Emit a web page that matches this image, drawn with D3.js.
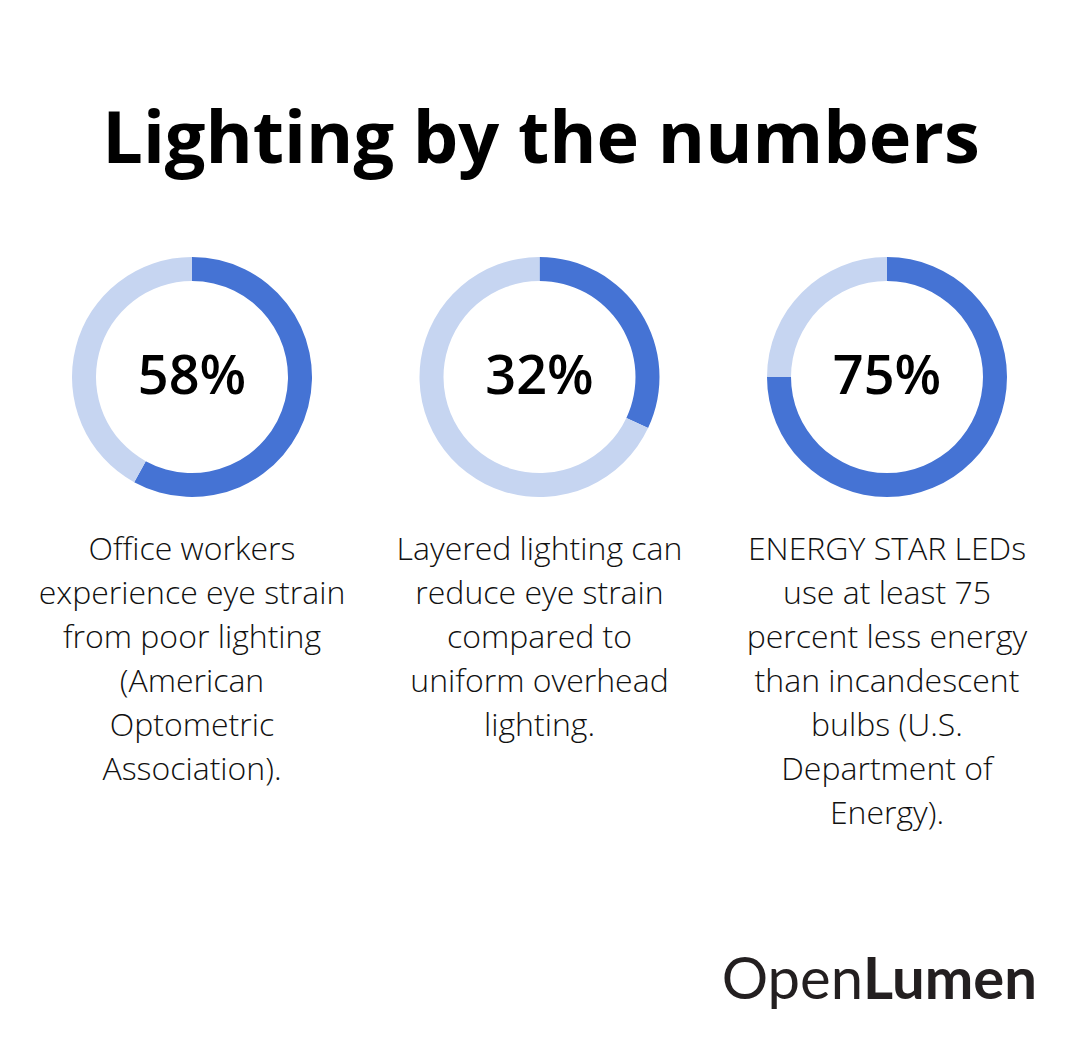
<!DOCTYPE html>
<html>
<head>
<meta charset="utf-8">
<script src="https://cdn.jsdelivr.net/npm/d3@7/dist/d3.min.js"></script>
<style>
  html, body { margin: 0; padding: 0; background: #fff; }
  svg { display: block; }
</style>
</head>
<body>
<svg id="chart" width="1080" height="1060"></svg>
<script>
// data
const title = 'Lighting by the numbers';
const stats = ['58%', '32%', '75%'];
const values = [58, 32, 75];
const captions = [
  ['Office workers', 'experience eye strain', 'from poor lighting', '(American', 'Optometric', 'Association).'],
  ['Layered lighting can', 'reduce eye strain', 'compared to', 'uniform overhead', 'lighting.'],
  ['ENERGY STAR LEDs', 'use at least 75', 'percent less energy', 'than incandescent', 'bulbs (U.S.', 'Department of', 'Energy).']
];

const W = 1080, H = 1060;
const svg = d3.select('#chart');
const darkBlue = '#4573d4';
const lightBlue = '#c6d5f1';

svg.append('rect').attr('width', W).attr('height', H).attr('fill', '#fff');

// title
svg.append('text')
  .attr('x', 541)
  .attr('y', 163)
  .attr('text-anchor', 'middle')
  .attr('font-family', 'Open Sans')
  .attr('font-weight', 700)
  .attr('font-size', 72)
  .attr('fill', '#000')
  .text(title);

const x = d3.scalePoint().domain(d3.range(values.length)).range([192, 887]);
const arc = d3.arc().innerRadius(96).outerRadius(120);
const pie = d3.pie().sort(null);

values.forEach((v, i) => {
  const g = svg.append('g').attr('transform', `translate(${x(i)},377)`);

  g.selectAll('path')
    .data(pie([v, 100 - v]))
    .enter()
    .append('path')
    .attr('d', arc)
    .attr('fill', (d, j) => j === 0 ? darkBlue : lightBlue);

  g.append('text')
    .attr('y', 17)
    .attr('text-anchor', 'middle')
    .attr('font-family', 'Open Sans')
    .attr('font-weight', 600)
    .attr('font-size', 54)
    .attr('fill', '#000')
    .text(stats[i]);

  // caption lines
  svg.append('text')
    .attr('text-anchor', 'middle')
    .attr('font-family', 'Open Sans')
    .attr('font-weight', 300)
    .attr('font-size', 32)
    .attr('fill', '#111')
    .selectAll('tspan')
    .data(captions[i])
    .enter()
    .append('tspan')
    .attr('x', x(i))
    .attr('y', (d, j) => 560 + j * 44)
    .text(d => d);
});

// logo
const logo = svg.append('text')
  .attr('x', 1037)
  .attr('y', 999)
  .attr('text-anchor', 'end')
  .attr('font-family', 'Lato')
  .attr('font-size', 58)
  .attr('fill', '#231f20');
logo.append('tspan').attr('font-weight', 400).text('Open');
logo.append('tspan').attr('font-weight', 700).text('Lumen');
</script>
</body>
</html>
